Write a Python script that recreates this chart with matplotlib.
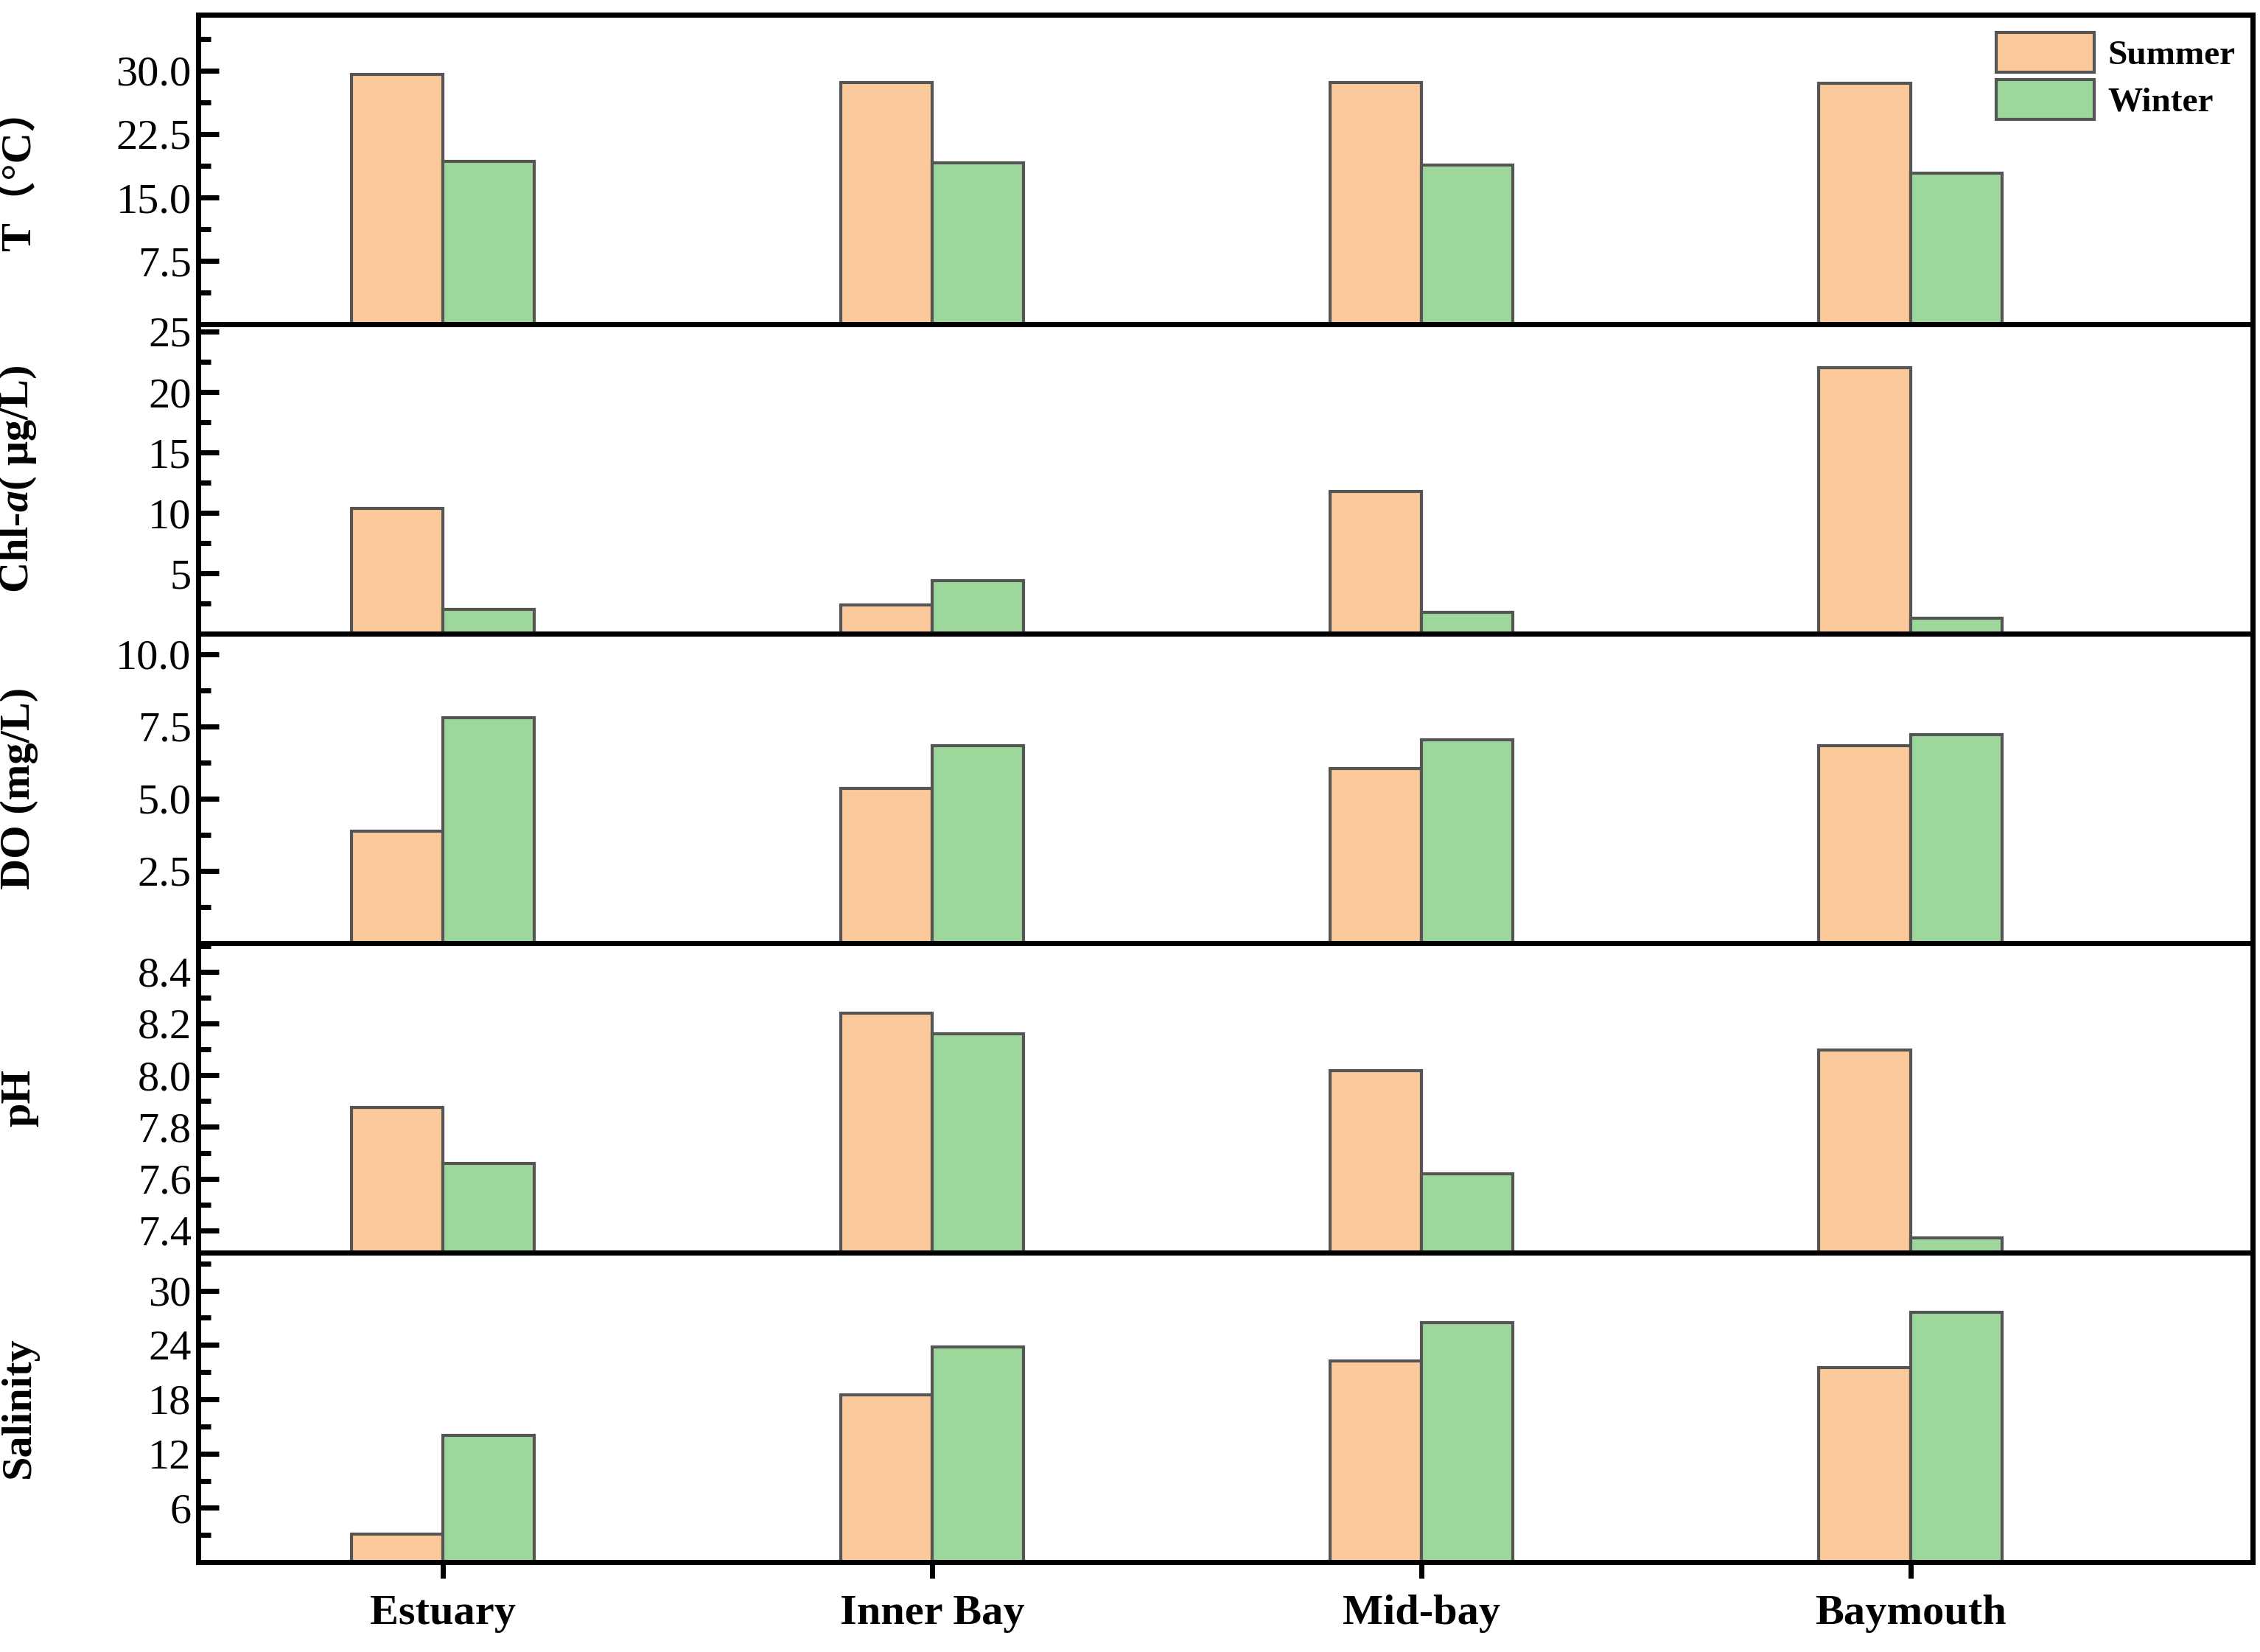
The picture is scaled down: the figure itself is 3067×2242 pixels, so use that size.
import numpy as np
import matplotlib.pyplot as plt
from matplotlib.ticker import AutoMinorLocator

plt.rcParams['font.family'] = 'serif'
plt.rcParams['font.serif'] = ['Liberation Serif', 'DejaVu Serif']
plt.rcParams['mathtext.fontset'] = 'custom'
plt.rcParams['mathtext.bfit'] = 'Liberation Serif:italic:bold'
plt.rcParams['mathtext.rm'] = 'Liberation Serif:bold'

# datos
sitios = ['Estuary', 'Inner Bay', 'Mid-bay', 'Baymouth']
t_verano = [29.6, 28.6, 28.6, 28.5]
t_invierno = [19.3, 19.1, 18.8, 17.9]
chl_verano = [10.35, 2.4, 11.8, 22.0]
chl_invierno = [2.0, 4.4, 1.8, 1.3]
do_verano = [3.87, 5.35, 6.04, 6.84]
do_invierno = [7.8, 6.84, 7.04, 7.2]
ph_verano = [7.875, 8.24, 8.017, 8.097]
ph_invierno = [7.66, 8.16, 7.62, 7.37]
sal_verano = [3.1, 18.5, 22.2, 21.5]
sal_invierno = [14.0, 23.8, 26.5, 27.6]

paneles = [
    ('T（°C）', t_verano, t_invierno, (0, 36.6), [7.5, 15.0, 22.5, 30.0], '{:.1f}'),
    ('Chl-$\\mathbfit{a}$( μg/L)', chl_verano, chl_invierno, (0, 25.6), [5, 10, 15, 20, 25], '{:.0f}'),
    ('DO (mg/L)', do_verano, do_invierno, (0, 10.7), [2.5, 5.0, 7.5, 10.0], '{:.1f}'),
    ('pH', ph_verano, ph_invierno, (7.314, 8.51), [7.4, 7.6, 7.8, 8.0, 8.2, 8.4], '{:.1f}'),
    ('Salinity', sal_verano, sal_invierno, (0, 34.2), [6, 12, 18, 24, 30], '{:.0f}'),
]

col_verano = '#FBC99A'
col_invierno = '#9ED79C'
borde = '#555555'
ancho = 0.187
x = np.arange(len(sitios))

fig = plt.figure(figsize=(15.335, 11.21), dpi=200)
izq, der, arriba, abajo = 0.0878, 0.9968, 0.991, 0.0544
alto = (arriba - abajo) / 5

for i, (etiqueta, ver, inv, lim, ticks, fmt) in enumerate(paneles):
    ax = fig.add_axes([izq, arriba - (i + 1) * alto, der - izq, alto])
    base = lim[0] if lim[0] > 0 else 0
    ax.bar(x - ancho / 2, np.array(ver) - base, ancho, bottom=base, color=col_verano,
           edgecolor=borde, linewidth=1.5, label='Summer')
    ax.bar(x + ancho / 2, np.array(inv) - base, ancho, bottom=base, color=col_invierno,
           edgecolor=borde, linewidth=1.5, label='Winter')
    ax.set_xlim(-0.5, 3.70)
    ax.set_ylim(*lim)
    ax.set_yticks(ticks)
    ax.set_yticklabels([fmt.format(t) for t in ticks])
    ax.yaxis.set_minor_locator(AutoMinorLocator(2))
    ax.tick_params(axis='y', which='major', direction='in', length=10, width=2.5, labelsize=21)
    ax.tick_params(axis='y', which='minor', direction='in', length=6, width=2.5)
    for s in ax.spines.values():
        s.set_linewidth(2.5)
    if i == 0:
        ax.set_ylabel(etiqueta, fontsize=21, fontweight='bold',
                      family=['Liberation Serif', 'Noto Sans CJK SC'])
    else:
        ax.set_ylabel(etiqueta, fontsize=21, fontweight='bold')
    ax.yaxis.set_label_coords(-0.078, 0.5)
    if i < 4:
        ax.set_xticks([])
    else:
        ax.set_xticks(x)
        ax.set_xticklabels(sitios, fontsize=21, fontweight='bold')
        ax.tick_params(axis='x', direction='out', length=8, width=2.5, pad=8)
    if i == 0:
        ax.legend(loc='upper right', frameon=False, prop={'weight': 'bold', 'size': 17},
                  handlelength=2.8, handleheight=1.4, borderaxespad=0.1, labelspacing=0.2,
                  handletextpad=0.4)

fig.savefig('out.png', dpi=200)
